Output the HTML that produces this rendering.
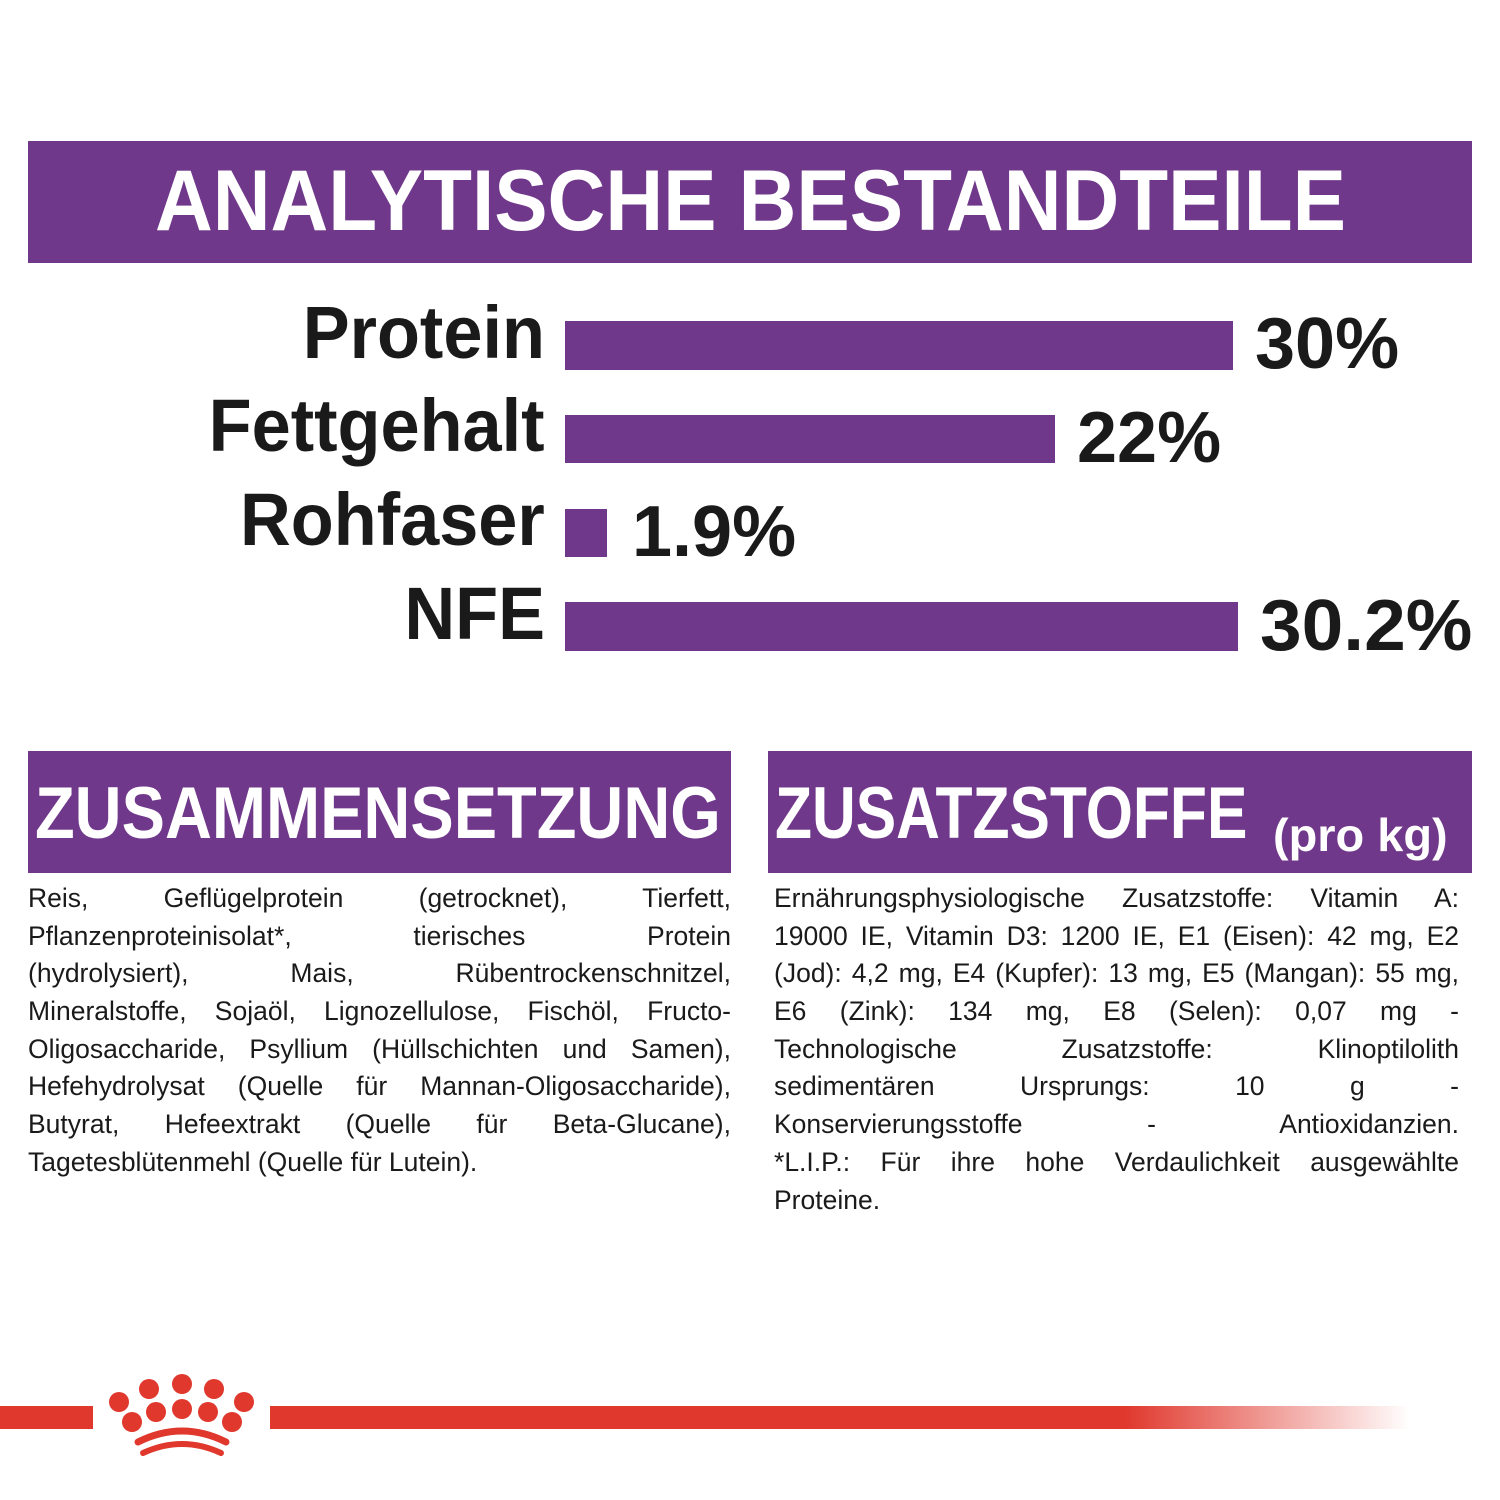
<!DOCTYPE html>
<html><head><meta charset="utf-8"><style>
body{margin:0;width:1500px;height:1500px;background:#fff;position:relative;overflow:hidden;font-family:"Liberation Sans",sans-serif;color:#1a1a1a}
.abs{position:absolute}
.band{position:absolute;background:#70388a}
.h{position:absolute;color:#fff;font-weight:bold;white-space:nowrap;transform-origin:0 0}
.bar{position:absolute;background:#70388a}
.lab{position:absolute;right:955px;font-size:74px;font-weight:bold;white-space:nowrap;transform-origin:100% 0;transform:scaleX(.95);line-height:1}
.val{position:absolute;font-size:72px;font-weight:bold;white-space:nowrap;transform-origin:0 0;transform:scaleX(1.0);line-height:1}
.txt{position:absolute;font-size:26.5px;line-height:37.7px}
.txt div{text-align:justify;text-align-last:justify;white-space:nowrap;height:37.7px}
.txt div.l{text-align-last:left}
</style></head><body>
<div class="band" style="left:28px;top:141px;width:1444px;height:122px"></div>
<div class="h" style="left:155px;top:152px;font-size:86px;transform:scaleX(.93)">ANALYTISCHE BESTANDTEILE</div>

<div class="lab" style="top:296px">Protein</div>
<div class="lab" style="top:389px">Fettgehalt</div>
<div class="lab" style="top:483px">Rohfaser</div>
<div class="lab" style="top:577px">NFE</div>
<div class="bar" style="left:565px;top:321px;width:668px;height:49px"></div>
<div class="bar" style="left:565px;top:415px;width:490px;height:48px"></div>
<div class="bar" style="left:565px;top:509px;width:42px;height:48px"></div>
<div class="bar" style="left:565px;top:602px;width:673px;height:49px"></div>
<div class="val" style="left:1255px;top:308px">30%</div>
<div class="val" style="left:1077px;top:402px">22%</div>
<div class="val" style="left:632px;top:496px">1.9%</div>
<div class="val" style="left:1260px;top:590px;transform:scaleX(1.04)">30.2%</div>

<div class="band" style="left:28px;top:751px;width:703px;height:122px"></div>
<div class="h" style="left:35px;top:772px;font-size:73px;transform:scaleX(.89)">ZUSAMMENSETZUNG</div>
<div class="band" style="left:768px;top:751px;width:704px;height:122px"></div>
<div class="h" style="left:775px;top:772px;font-size:73px;transform:scaleX(.83)">ZUSATZSTOFFE</div>
<div class="h" style="left:1273px;top:808px;font-size:46px;transform:scaleX(1.02)">(pro kg)</div>

<div class="txt" style="left:28px;top:880px;width:703px">
<div>Reis, Geflügelprotein (getrocknet), Tierfett,</div>
<div>Pflanzenproteinisolat*, tierisches Protein</div>
<div>(hydrolysiert), Mais, Rübentrockenschnitzel,</div>
<div>Mineralstoffe, Sojaöl, Lignozellulose, Fischöl, Fructo-</div>
<div>Oligosaccharide, Psyllium (Hüllschichten und Samen),</div>
<div>Hefehydrolysat (Quelle für Mannan-Oligosaccharide),</div>
<div>Butyrat, Hefeextrakt (Quelle für Beta-Glucane),</div>
<div class="l">Tagetesblütenmehl (Quelle für Lutein).</div>
</div>
<div class="txt" style="left:774px;top:880px;width:685px">
<div>Ernährungsphysiologische Zusatzstoffe: Vitamin A:</div>
<div>19000 IE, Vitamin D3: 1200 IE, E1 (Eisen): 42 mg, E2</div>
<div>(Jod): 4,2 mg, E4 (Kupfer): 13 mg, E5 (Mangan): 55 mg,</div>
<div>E6 (Zink): 134 mg, E8 (Selen): 0,07 mg -</div>
<div>Technologische Zusatzstoffe: Klinoptilolith</div>
<div>sedimentären Ursprungs: 10 g -</div>
<div>Konservierungsstoffe - Antioxidanzien.</div>
<div>*L.I.P.: Für ihre hohe Verdaulichkeit ausgewählte</div>
<div class="l">Proteine.</div>
</div>

<div class="abs" style="left:0;top:1406px;width:93px;height:23px;background:#e0382d"></div>
<div class="abs" style="left:270px;top:1406px;width:1140px;height:23px;background:linear-gradient(90deg,#e0382d 0,#e0382d 75%,rgba(224,56,45,0) 100%)"></div>
<svg class="abs" style="left:0;top:1360px" width="300" height="110">
<g fill="#e0382d">
<circle cx="119" cy="42" r="10"/><circle cx="149" cy="29" r="10"/><circle cx="182" cy="24" r="10"/><circle cx="214" cy="29" r="10"/><circle cx="244" cy="42" r="10"/>
<circle cx="132" cy="62" r="10"/><circle cx="156" cy="52" r="10"/><circle cx="182" cy="49" r="10"/><circle cx="208" cy="52" r="10"/><circle cx="232" cy="62" r="10"/>
</g>
<path d="M138 82 Q182 60 226 82" stroke="#e0382d" stroke-width="7" fill="none" stroke-linecap="round"/>
<path d="M143 93 Q182 75 221 93" stroke="#e0382d" stroke-width="6" fill="none" stroke-linecap="round"/>
</svg>
</body></html>
